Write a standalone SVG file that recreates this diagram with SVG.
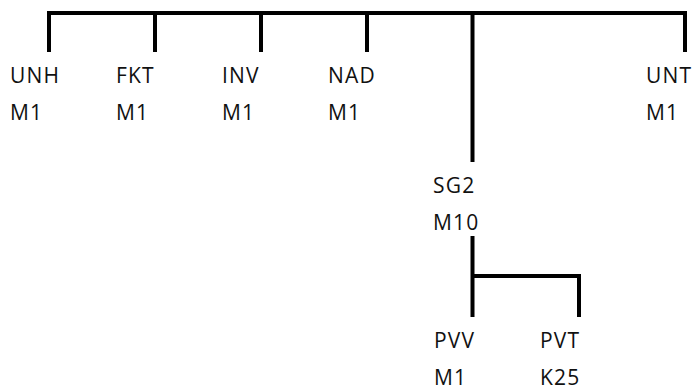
<svg xmlns="http://www.w3.org/2000/svg" width="695" height="390" viewBox="0 0 695 390">
<style>
.c{fill:none;stroke:#000;stroke-width:4;stroke-linejoin:miter;stroke-linecap:butt}
text{font-family:"Open Sans","DejaVu Sans",sans-serif;font-size:21px;fill:#111;letter-spacing:1.2px}
</style>
<rect width="695" height="390" fill="#fff"/>
<g id="connectors">
<path class="c" d="M49,52 V13 H685 V52"/>
<path class="c" d="M155,13 V52 M261,13 V52 M367,13 V52 M472.5,13 V162"/>
<path class="c" d="M472.5,236 V317 M472.5,276 H579 V317"/>
</g>
<g id="UNH"><text x="10" y="83">UNH</text><text x="10" y="120">M1</text></g>
<g id="FKT"><text x="116" y="83">FKT</text><text x="116" y="120">M1</text></g>
<g id="INV"><text x="222" y="83">INV</text><text x="222" y="120">M1</text></g>
<g id="NAD"><text x="328" y="83">NAD</text><text x="328" y="120">M1</text></g>
<g id="UNT"><text x="646" y="83">UNT</text><text x="646" y="120">M1</text></g>
<g id="SG2"><text x="433" y="193">SG2</text><text x="433" y="230">M10</text></g>
<g id="PVV"><text x="434" y="348">PVV</text><text x="434" y="385">M1</text></g>
<g id="PVT"><text x="540" y="348">PVT</text><text x="540" y="385">K25</text></g>
</svg>
